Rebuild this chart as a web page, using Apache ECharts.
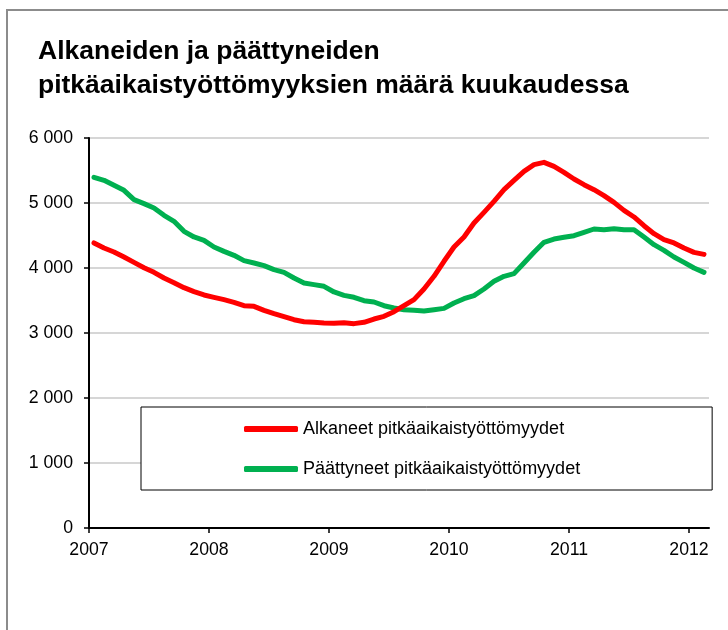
<!DOCTYPE html>
<html>
<head>
<meta charset="utf-8">
<script src="https://cdn.jsdelivr.net/npm/echarts@6/dist/echarts.min.js"></script>
<style>
  html, body { margin: 0; padding: 0; background: #fff; }
  #chart { width: 728px; height: 630px; }
</style>
</head>
<body>
<div id="chart"></div>
<script>
// kuukausittaiset arvot, tammikuu 2007 - helmikuu 2012
var alkaneet = [
  4385, 4308, 4246, 4169, 4087, 4005, 3933, 3846, 3774, 3697, 3636, 3585,
  3549, 3513, 3472, 3420, 3410, 3349, 3297, 3251, 3205, 3174, 3164, 3154,
  3149, 3159, 3144, 3164, 3215, 3256, 3328, 3421, 3513, 3677, 3872, 4103,
  4323, 4477, 4692, 4856, 5026, 5205, 5349, 5487, 5590, 5626, 5564, 5472,
  5369, 5282, 5205, 5113, 5010, 4887, 4785, 4651, 4528, 4436, 4385, 4308,
  4241, 4210
];
var paattyneet = [
  5395, 5349, 5272, 5195, 5051, 4990, 4923, 4810, 4718, 4564, 4477, 4426,
  4323, 4256, 4195, 4113, 4077, 4036, 3974, 3933, 3846, 3769, 3744, 3718,
  3631, 3579, 3549, 3497, 3477, 3420, 3385, 3359, 3349, 3338, 3359, 3379,
  3462, 3528, 3574, 3677, 3795, 3872, 3913, 4077, 4241, 4395, 4446, 4472,
  4497, 4549, 4600, 4590, 4605, 4590, 4590, 4477, 4359, 4272, 4169, 4087,
  4000, 3933
];
var vuodet = ["2007", "2008", "2009", "2010", "2011", "2012"];
var sarjaNimet = ["Alkaneet pitkäaikaistyöttömyydet", "Päättyneet pitkäaikaistyöttömyydet"];

var fontti = "'Liberation Sans', Arial, sans-serif";

// kuukausi i piirretään kuukauden keskelle
function pisteet(arvot) {
  return arvot.map(function (v, i) { return [i + 0.5, v]; });
}

var chart = echarts.init(document.getElementById("chart"));
var option = {
  animation: false,
  backgroundColor: "#fff",
  textStyle: { fontFamily: fontti },
  title: {
    text: "Alkaneiden ja päättyneiden\npitkäaikaistyöttömyyksien määrä kuukaudessa",
    left: 33,
    top: 30,
    textStyle: {
      fontFamily: fontti,
      fontSize: 26.5,
      fontWeight: "bold",
      color: "#000",
      lineHeight: 34
    }
  },
  graphic: [
    {
      type: "rect",
      shape: { x: 7, y: 10, width: 780, height: 700 },
      style: { fill: null, stroke: "#8c8c8c", lineWidth: 2 },
      z: 0
    }
  ],
  legend: {
    left: 141,
    top: 407,
    orient: "vertical",
    backgroundColor: "#fff",
    borderColor: "#000",
    borderWidth: 1,
    padding: [13, 132, 12, 103],
    itemWidth: 54,
    itemHeight: 6,
    itemGap: 22,
    icon: "roundRect",
    textStyle: { fontFamily: fontti, fontSize: 18, color: "#000" },
    data: sarjaNimet
  },
  grid: {
    left: 89,
    top: 138,
    right: 19,
    bottom: 102
  },
  xAxis: {
    type: "value",
    min: 0,
    max: 62,
    interval: 12,
    axisLine: { show: true, lineStyle: { color: "#000", width: 2 } },
    axisTick: {
      show: true,
      length: 5,
      lineStyle: { color: "#000", width: 1.5 },
      customValues: [0, 12, 24, 36, 48, 60]
    },
    axisLabel: {
      fontSize: 17.7,
      color: "#000",
      margin: 13,
      customValues: [0, 12, 24, 36, 48, 60],
      formatter: function (v) { return vuodet[Math.round(v / 12)]; }
    },
    splitLine: { show: false }
  },
  yAxis: {
    type: "value",
    min: 0,
    max: 6000,
    interval: 1000,
    axisLine: { show: true, lineStyle: { color: "#000", width: 2 } },
    axisTick: { show: true, length: 5, lineStyle: { color: "#000", width: 1.5 } },
    axisLabel: {
      fontSize: 17.7,
      color: "#000",
      margin: 16,
      formatter: function (v) {
        return String(v).replace(/\B(?=(\d{3})+(?!\d))/g, " ");
      }
    },
    splitLine: { show: true, lineStyle: { color: "#c8c8c8", width: 1.5 } }
  },
  series: [
    {
      name: sarjaNimet[0],
      type: "line",
      data: pisteet(alkaneet),
      symbol: "none",
      smooth: false,
      color: "#ff0000",
      lineStyle: { width: 5, color: "#ff0000", cap: "round", join: "round" },
      z: 3
    },
    {
      name: sarjaNimet[1],
      type: "line",
      data: pisteet(paattyneet),
      symbol: "none",
      smooth: false,
      color: "#00b050",
      lineStyle: { width: 5, color: "#00b050", cap: "round", join: "round" },
      z: 2
    }
  ]
};
chart.setOption(option);
</script>
</body>
</html>
